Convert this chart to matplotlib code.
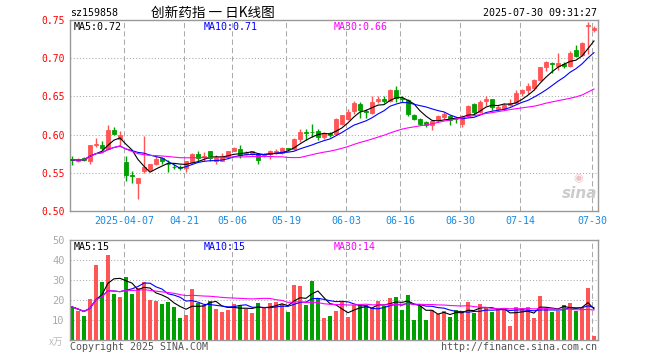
import numpy as np
import pandas as pd
import matplotlib
matplotlib.use('Agg')
import matplotlib.pyplot as plt

# ---------------- data ----------------
opens = [0.568, 0.566, 0.569, 0.565, 0.587, 0.586, 0.581, 0.606, 0.594, 0.564,
         0.547, 0.536, 0.552, 0.554, 0.561, 0.569, 0.562, 0.558, 0.557, 0.556,
         0.564, 0.574, 0.571, 0.578, 0.566, 0.566, 0.572, 0.579, 0.581, 0.575,
         0.574, 0.574, 0.572, 0.574, 0.577, 0.576, 0.582, 0.581, 0.594, 0.603,
         0.604, 0.605, 0.597, 0.602, 0.601, 0.614, 0.621, 0.631, 0.640, 0.631,
         0.628, 0.644, 0.647, 0.644, 0.659, 0.648, 0.645, 0.626, 0.621, 0.617,
         0.612, 0.619, 0.623, 0.624, 0.621, 0.614, 0.624, 0.640, 0.629, 0.644,
         0.646, 0.634, 0.634, 0.639, 0.642, 0.654, 0.658, 0.661, 0.671, 0.688,
         0.694, 0.690, 0.693, 0.690, 0.711, 0.704, 0.742, 0.737]
highs = [0.572, 0.569, 0.571, 0.587, 0.595, 0.592, 0.613, 0.610, 0.605, 0.572,
         0.553, 0.543, 0.598, 0.562, 0.572, 0.571, 0.567, 0.561, 0.560, 0.566,
         0.576, 0.579, 0.577, 0.579, 0.573, 0.576, 0.578, 0.584, 0.587, 0.578,
         0.579, 0.576, 0.576, 0.580, 0.581, 0.584, 0.583, 0.595, 0.607, 0.607,
         0.614, 0.607, 0.604, 0.604, 0.622, 0.626, 0.634, 0.644, 0.643, 0.634,
         0.651, 0.651, 0.650, 0.660, 0.663, 0.650, 0.647, 0.627, 0.622, 0.618,
         0.619, 0.626, 0.629, 0.626, 0.623, 0.626, 0.639, 0.641, 0.645, 0.651,
         0.647, 0.639, 0.641, 0.646, 0.658, 0.660, 0.667, 0.673, 0.689, 0.696,
         0.695, 0.707, 0.695, 0.709, 0.717, 0.721, 0.747, 0.742]
lows = [0.560, 0.564, 0.565, 0.561, 0.584, 0.580, 0.580, 0.599, 0.585, 0.539,
        0.536, 0.516, 0.550, 0.552, 0.560, 0.561, 0.551, 0.555, 0.554, 0.551,
        0.563, 0.566, 0.566, 0.565, 0.561, 0.565, 0.570, 0.578, 0.569, 0.573,
        0.573, 0.561, 0.571, 0.568, 0.575, 0.574, 0.578, 0.580, 0.590, 0.593,
        0.597, 0.593, 0.594, 0.597, 0.600, 0.612, 0.619, 0.627, 0.622, 0.622,
        0.627, 0.641, 0.641, 0.643, 0.643, 0.643, 0.625, 0.619, 0.612, 0.610,
        0.606, 0.617, 0.621, 0.613, 0.615, 0.610, 0.623, 0.626, 0.628, 0.637,
        0.632, 0.632, 0.633, 0.637, 0.641, 0.651, 0.653, 0.659, 0.670, 0.683,
        0.681, 0.685, 0.687, 0.688, 0.701, 0.703, 0.705, 0.734]
closes = [0.567, 0.567, 0.567, 0.586, 0.588, 0.583, 0.606, 0.601, 0.600, 0.547,
          0.546, 0.543, 0.557, 0.561, 0.568, 0.565, 0.561, 0.557, 0.556, 0.566,
          0.574, 0.570, 0.572, 0.569, 0.570, 0.572, 0.578, 0.582, 0.573, 0.576,
          0.578, 0.567, 0.575, 0.578, 0.578, 0.582, 0.581, 0.594, 0.604, 0.602,
          0.603, 0.597, 0.602, 0.600, 0.620, 0.625, 0.630, 0.641, 0.632, 0.630,
          0.643, 0.647, 0.644, 0.659, 0.648, 0.646, 0.627, 0.621, 0.614, 0.613,
          0.618, 0.624, 0.627, 0.619, 0.620, 0.624, 0.638, 0.629, 0.643, 0.646,
          0.636, 0.636, 0.639, 0.642, 0.655, 0.658, 0.664, 0.671, 0.688, 0.695,
          0.693, 0.694, 0.690, 0.707, 0.703, 0.720, 0.743, 0.740]
volumes = [16.4, 14.2, 11.7, 20.3, 37.6, 29.0, 42.7, 22.9, 21.5, 31.5,
           23.1, 26.1, 28.8, 19.8, 19.3, 17.8, 18.8, 16.4, 10.8, 12.2,
           25.4, 18.5, 17.3, 19.3, 15.3, 13.9, 14.7, 17.6, 17.1, 15.3,
           13.2, 18.5, 15.9, 18.5, 18.8, 18.0, 13.7, 27.5, 26.9, 17.3,
           29.5, 20.7, 10.7, 11.9, 14.2, 19.3, 11.2, 17.3, 17.6, 17.3,
           15.6, 19.3, 16.9, 21.0, 21.5, 14.7, 22.4, 9.7, 16.9, 9.7,
           14.7, 12.7, 14.2, 11.4, 14.7, 14.2, 19.0, 13.4, 17.8, 15.9,
           13.9, 14.7, 15.6, 6.8, 16.4, 15.9, 16.4, 10.8, 22.0, 15.9,
           13.9, 14.2, 17.3, 18.5, 14.2, 16.4, 26.1, 1.7]
date_tick_idx = [9, 19, 27, 36, 46, 55, 65, 75, 87]
date_labels = ['2025-04-07', '04-21', '05-06', '05-19', '06-03',
               '06-16', '06-30', '07-14', '07-30']
price_ticks = [0.50, 0.55, 0.60, 0.65, 0.70, 0.75]
vol_ticks = [10, 20, 30, 40, 50]
ma_windows = [5, 10, 30]
ma_labels = ['MA5:0.72', 'MA10:0.71', 'MA30:0.66']
vol_ma_labels = ['MA5:15', 'MA10:15', 'MA30:14']

# ---------------- styling ----------------
W, H = 660, 360
RED = '#ff5555'
GREEN = '#00a000'
MA_COLORS = ['#000000', '#0000ff', '#ff00ff']
GRID = '#aaaaaa'
SPINE = '#999999'
MONO = 'DejaVu Sans Mono'
CJK = ['Noto Sans CJK SC', 'DejaVu Sans']


def fx(x):
    return x / W


def fy(y):
    return 1 - y / H


fig = plt.figure(figsize=(W / 100, H / 100), dpi=100)
fig.patch.set_facecolor('white')

left, right = 70, 598
ax1 = fig.add_axes([fx(left), fy(211), (right - left) / W, (211 - 20) / H])
ax2 = fig.add_axes([fx(left), fy(339.5), (right - left) / W, (339.5 - 240) / H])

n = len(closes)
x = np.arange(n)
o = np.array(opens)
c = np.array(closes)
hi = np.array(highs)
lo = np.array(lows)
v = np.array(volumes)
up = c >= o
colors = np.where(up, RED, GREEN)

xlim = (-0.33, 87.67)

for ax in (ax1, ax2):
    ax.set_xlim(*xlim)
    for sp in ax.spines.values():
        sp.set_color(SPINE)
        sp.set_linewidth(1.0)
    for t in date_tick_idx:
        ax.axvline(t - 0.3, color=GRID, lw=0.75, ls=(0, (5, 3)), zorder=0)
    ax.tick_params(length=0)

# price panel
ax1.set_ylim(0.50, 0.75)
for yv in price_ticks[1:-1]:
    ax1.axhline(yv, color=GRID, lw=0.75, ls=(0, (1, 2)), zorder=0)
ax1.vlines(x, lo, hi, colors=colors, lw=1.0, zorder=2)
body_bottom = np.minimum(o, c)
body_h = np.maximum(np.abs(c - o), 0.0004)
ax1.bar(x, body_h, bottom=body_bottom, width=0.62, color=colors,
        edgecolor=colors, linewidth=0.6, zorder=3)
cs = pd.Series(c)
for w, col in zip(ma_windows, MA_COLORS):
    ax1.plot(x, cs.rolling(w, min_periods=1).mean(), color=col, lw=0.8, zorder=4)

ax1.set_yticks(price_ticks)
ax1.set_yticklabels([f'{p:.2f}' for p in price_ticks], color='#ff0000',
                    fontsize=7, family=MONO)
ax1.tick_params(axis='y', pad=4)
ax1.set_xticks([t - 0.3 for t in date_tick_idx])
ax1.set_xticklabels(date_labels, color='#1a8ae0', fontsize=7.2, family=MONO)
ax1.tick_params(axis='x', pad=3.5)

# volume panel
ax2.set_ylim(0, 50)
for yv in vol_ticks[:-1]:
    ax2.axhline(yv, color=GRID, lw=0.75, ls=(0, (1, 2)), zorder=0)
ax2.bar(x, v, width=0.82, color=colors, linewidth=0, zorder=2)
vs = pd.Series(v)
for w, col in zip(ma_windows, MA_COLORS):
    ax2.plot(x, vs.rolling(w, min_periods=1).mean(), color=col, lw=0.8, zorder=4)
ax2.set_yticks(vol_ticks)
ax2.set_yticklabels([str(t) for t in vol_ticks], color='#aaaaaa',
                    fontsize=7.5, family=MONO)
ax2.tick_params(axis='y', pad=4)
ax2.set_xticks([])

# ---------------- texts ----------------
fig.text(fx(70), fy(13), 'sz159858', fontsize=7.2, family=MONO,
         va='center', ha='left', color='#000000')
fig.text(fx(213), fy(13), '创新药指 一 日K线图', fontsize=9.8, family=CJK,
         va='center', ha='center', color='#000000')
fig.text(fx(597), fy(13), '2025-07-30 09:31:27', fontsize=7.2, family=MONO,
         va='center', ha='right', color='#000000')

lbl_x = [74, 204, 334]
for lx, s, col in zip(lbl_x, ma_labels, MA_COLORS):
    fig.text(fx(lx), fy(27), s, fontsize=7.2, family=MONO, va='center',
             ha='left', color=col)
for lx, s, col in zip(lbl_x, vol_ma_labels, MA_COLORS):
    fig.text(fx(lx), fy(247), s, fontsize=7.2, family=MONO, va='center',
             ha='left', color=col)

fig.text(fx(49), fy(342), 'x万', fontsize=7, family=CJK, va='center',
         ha='left', color='#bbbbbb', style='italic')
fig.text(fx(70), fy(347), 'Copyright 2025 SINA.COM', fontsize=7.2, family=MONO,
         va='center', ha='left', color='#555555')
fig.text(fx(597), fy(347), 'http://finance.sina.com.cn', fontsize=7.2,
         family=MONO, va='center', ha='right', color='#555555')

# sina watermark
fig.text(fx(580), fy(193), 'sina', fontsize=11, family='DejaVu Sans',
         weight='bold', style='italic', va='center', ha='center',
         color='#cccccc')
fig.text(fx(578), fy(178), '◉', fontsize=8, family='DejaVu Sans',
         va='center', ha='center', color='#f0c4c4')

fig.savefig('out.png', dpi=100, facecolor='white')
